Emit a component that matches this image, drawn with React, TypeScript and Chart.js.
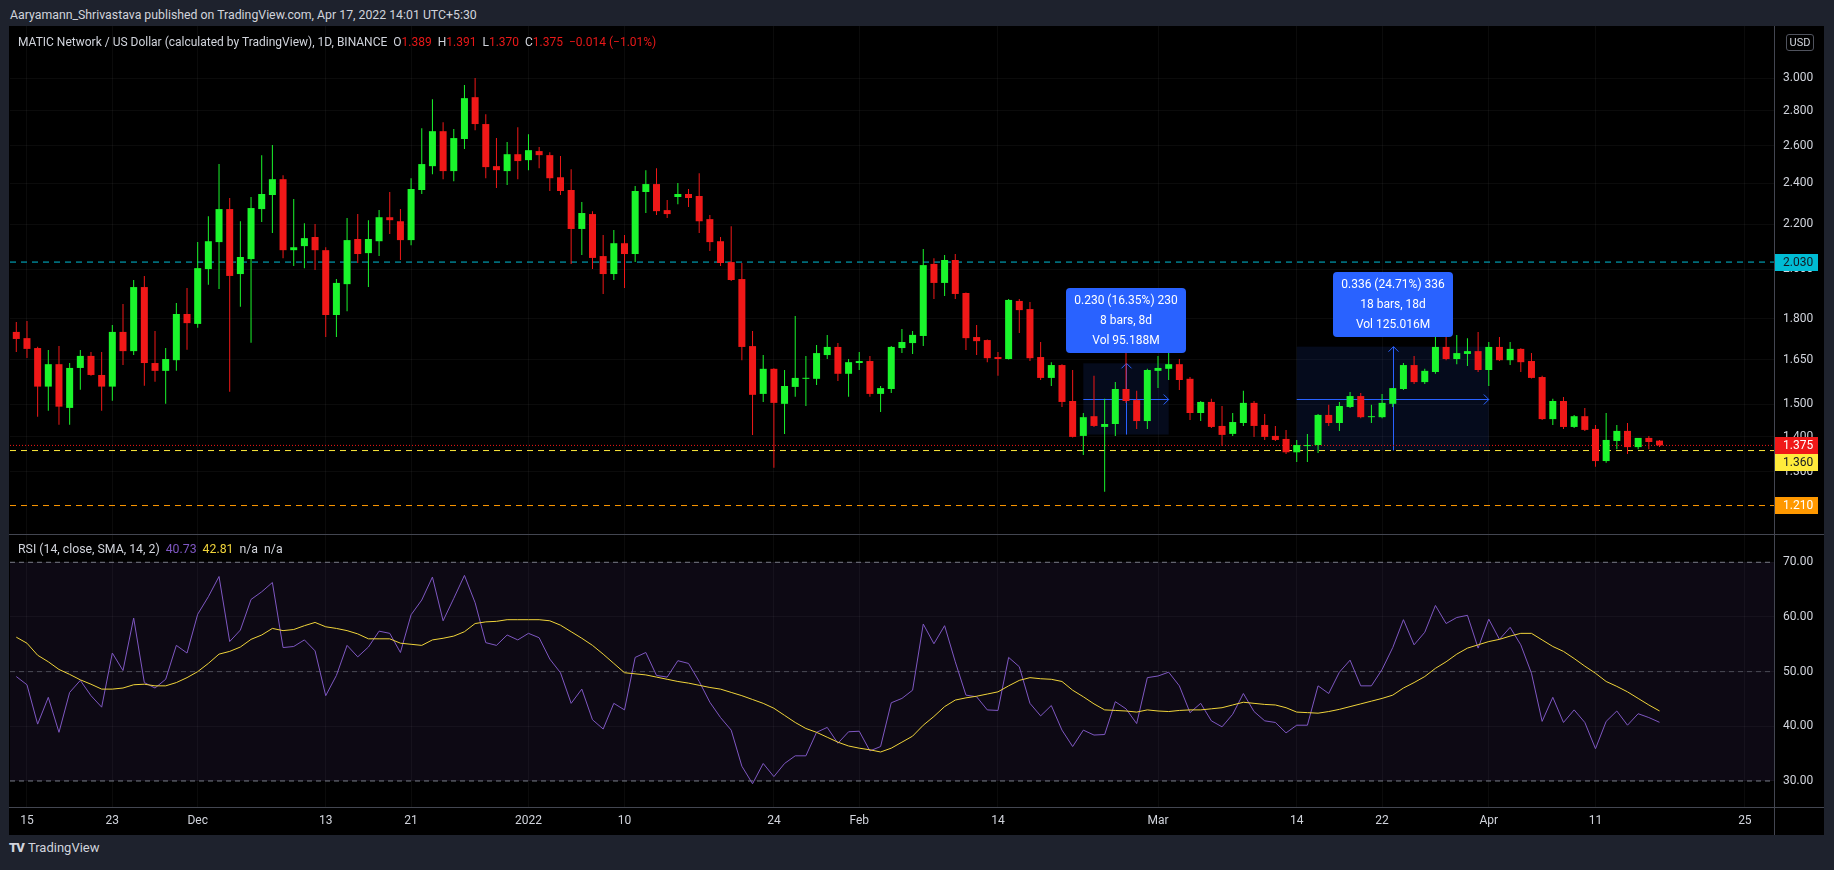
import React, { useEffect, useRef } from "react";
import { Chart, registerables } from "chart.js";

Chart.register(...registerables);

// ---------------- data (daily MATIC/USD, 14 Nov 2021 .. 17 Apr 2022) ----------------
const opens = [
  1.750, 1.727, 1.691, 1.558, 1.634, 1.489, 1.621, 1.663, 1.597, 1.558,
  1.750, 1.680, 1.925, 1.638, 1.611, 1.648, 1.818, 1.780, 2.000, 2.118,
  2.272, 1.979, 2.043, 2.272, 2.341, 2.421, 2.082, 2.100, 2.141, 2.082,
  1.814, 1.937, 2.132, 2.069, 2.122, 2.233, 2.214, 2.127, 2.366, 2.489,
  2.681, 2.463, 2.637, 2.882, 2.722, 2.489, 2.463, 2.553, 2.521, 2.570,
  2.548, 2.431, 2.366, 2.178, 2.248, 2.056, 1.979, 2.113, 2.065, 2.356,
  2.396, 2.267, 2.331, 2.346, 2.336, 2.224, 2.122, 2.030, 1.958, 1.698,
  1.534, 1.618, 1.502, 1.557, 1.584, 1.584, 1.666, 1.695, 1.601, 1.638,
  1.645, 1.534, 1.550, 1.691, 1.709, 1.735, 2.022, 1.942, 2.039, 1.901,
  1.731, 1.720, 1.659, 1.652, 1.869, 1.837, 1.659, 1.587, 1.631, 1.511,
  1.403, 1.463, 1.430, 1.439, 1.550, 1.514, 1.448, 1.611, 1.618, 1.634,
  1.584, 1.473, 1.508, 1.433, 1.409, 1.442, 1.505, 1.436, 1.403, 1.394,
  1.355, 1.373, 1.376, 1.467, 1.442, 1.492, 1.527, 1.460, 1.460, 1.502,
  1.550, 1.631, 1.573, 1.607, 1.695, 1.652, 1.670, 1.680, 1.614, 1.695,
  1.648, 1.688, 1.645, 1.590, 1.454, 1.511, 1.430, 1.463, 1.424, 1.330,
  1.388, 1.418, 1.370, 1.397, 1.389,
];
const highs = [
  1.787, 1.791, 1.696, 1.684, 1.698, 1.638, 1.684, 1.677, 1.677, 1.776,
  1.857, 1.954, 1.971, 1.753, 1.691, 1.861, 1.921, 2.118, 2.238, 2.500,
  2.326, 2.214, 2.331, 2.548, 2.603, 2.442, 2.321, 2.205, 2.201, 2.095,
  1.958, 2.229, 2.248, 2.219, 2.267, 2.356, 2.272, 2.426, 2.698, 2.870,
  2.733, 2.693, 2.958, 3.002, 2.780, 2.642, 2.620, 2.704, 2.664, 2.592,
  2.564, 2.543, 2.473, 2.306, 2.262, 2.150, 2.173, 2.150, 2.386, 2.468,
  2.478, 2.316, 2.401, 2.371, 2.452, 2.243, 2.141, 2.191, 2.026, 1.753,
  1.666, 1.620, 1.614, 1.810, 1.663, 1.702, 1.739, 1.709, 1.652, 1.677,
  1.663, 1.560, 1.698, 1.761, 1.753, 2.087, 2.047, 2.061, 2.065, 1.903,
  1.776, 1.722, 1.677, 1.877, 1.877, 1.865, 1.713, 1.641, 1.634, 1.614,
  1.473, 1.594, 1.518, 1.573, 1.720, 1.544, 1.618, 1.663, 1.698, 1.652,
  1.590, 1.511, 1.518, 1.495, 1.473, 1.544, 1.511, 1.470, 1.433, 1.421,
  1.391, 1.409, 1.470, 1.499, 1.508, 1.540, 1.537, 1.499, 1.534, 1.553,
  1.638, 1.663, 1.618, 1.742, 1.746, 1.739, 1.727, 1.750, 1.713, 1.731,
  1.713, 1.690, 1.673, 1.594, 1.518, 1.524, 1.467, 1.489, 1.436, 1.473,
  1.436, 1.442, 1.397, 1.403, 1.391,
];
const lows = [
  1.677, 1.656, 1.461, 1.480, 1.437, 1.437, 1.548, 1.594, 1.480, 1.512,
  1.631, 1.666, 1.561, 1.574, 1.502, 1.611, 1.685, 1.766, 1.934, 1.917,
  1.541, 1.846, 1.710, 2.210, 2.159, 2.047, 2.013, 2.004, 1.996, 1.731,
  1.731, 1.829, 2.026, 1.925, 2.056, 2.155, 2.039, 2.104, 2.346, 2.447,
  2.421, 2.411, 2.581, 2.687, 2.426, 2.376, 2.391, 2.421, 2.468, 2.478,
  2.361, 2.341, 2.022, 2.061, 2.000, 1.897, 1.954, 1.921, 2.030, 2.253,
  2.243, 2.229, 2.296, 2.282, 2.159, 2.078, 2.013, 1.950, 1.648, 1.406,
  1.508, 1.311, 1.409, 1.525, 1.495, 1.563, 1.652, 1.577, 1.525, 1.614,
  1.525, 1.476, 1.537, 1.673, 1.670, 1.698, 1.877, 1.889, 1.877, 1.684,
  1.666, 1.641, 1.594, 1.650, 1.746, 1.645, 1.580, 1.560, 1.492, 1.398,
  1.347, 1.430, 1.246, 1.403, 1.505, 1.424, 1.424, 1.553, 1.580, 1.547,
  1.451, 1.448, 1.427, 1.373, 1.403, 1.433, 1.400, 1.391, 1.388, 1.350,
  1.327, 1.327, 1.353, 1.433, 1.418, 1.489, 1.457, 1.442, 1.457, 1.492,
  1.547, 1.567, 1.567, 1.601, 1.648, 1.634, 1.628, 1.607, 1.560, 1.645,
  1.631, 1.607, 1.585, 1.451, 1.436, 1.424, 1.427, 1.418, 1.314, 1.325,
  1.364, 1.350, 1.364, 1.364, 1.370,
];
const closes = [
  1.724, 1.688, 1.558, 1.634, 1.493, 1.621, 1.663, 1.597, 1.558, 1.750,
  1.680, 1.925, 1.638, 1.611, 1.652, 1.818, 1.783, 2.004, 2.122, 2.272,
  1.971, 2.052, 2.277, 2.346, 2.421, 2.082, 2.095, 2.136, 2.082, 1.814,
  1.942, 2.127, 2.065, 2.132, 2.233, 2.219, 2.127, 2.371, 2.500, 2.681,
  2.463, 2.642, 2.876, 2.722, 2.484, 2.468, 2.553, 2.516, 2.575, 2.548,
  2.426, 2.361, 2.178, 2.253, 2.048, 1.979, 2.113, 2.065, 2.361, 2.396,
  2.262, 2.248, 2.346, 2.326, 2.214, 2.118, 2.026, 1.954, 1.695, 1.531,
  1.618, 1.505, 1.560, 1.587, 1.587, 1.673, 1.695, 1.601, 1.641, 1.645,
  1.534, 1.553, 1.695, 1.713, 1.739, 2.017, 1.942, 2.039, 1.897, 1.727,
  1.716, 1.655, 1.652, 1.873, 1.833, 1.655, 1.587, 1.631, 1.508, 1.400,
  1.460, 1.433, 1.439, 1.550, 1.511, 1.448, 1.614, 1.621, 1.634, 1.580,
  1.473, 1.508, 1.430, 1.406, 1.445, 1.505, 1.433, 1.400, 1.391, 1.355,
  1.376, 1.376, 1.467, 1.442, 1.495, 1.527, 1.460, 1.463, 1.505, 1.553,
  1.631, 1.573, 1.611, 1.695, 1.652, 1.673, 1.680, 1.614, 1.695, 1.648,
  1.688, 1.641, 1.587, 1.454, 1.511, 1.430, 1.463, 1.421, 1.330, 1.391,
  1.418, 1.370, 1.397, 1.385, 1.375,
];
const rsiValues = [
  49.1, 47.6, 40.4, 45.3, 38.9, 46.2, 48.4, 45.6, 43.5, 53.4,
  50.2, 59.8, 48.0, 47.0, 48.6, 54.8, 53.4, 60.5, 63.7, 67.4,
  55.5, 57.6, 63.2, 64.6, 66.3, 54.4, 54.6, 55.8, 53.8, 45.6,
  49.3, 54.8, 52.7, 54.5, 57.4, 57.0, 53.5, 60.4, 63.1, 67.3,
  59.3, 63.4, 67.6, 62.6, 55.3, 54.8, 56.7, 55.8, 57.0, 56.2,
  52.3, 49.8, 44.2, 46.8, 41.2, 39.5, 44.2, 43.0, 52.6, 53.5,
  49.3, 49.0, 52.0, 51.5, 48.2, 44.4, 41.6, 39.3, 32.7, 29.5,
  33.2, 30.8, 33.2, 34.6, 34.6, 38.9, 39.8, 36.9, 39.0, 39.1,
  35.5, 36.3, 44.3, 45.1, 46.6, 58.7, 55.1, 58.4, 51.8, 45.7,
  45.4, 43.0, 42.9, 52.6, 50.9, 44.2, 41.9, 43.8, 39.3, 36.3,
  39.3, 38.4, 38.5, 44.5, 43.2, 40.5, 48.9, 49.2, 49.9, 47.4,
  42.5, 44.2, 41.0, 39.9, 42.2, 46.0, 42.7, 41.0, 40.7, 38.8,
  40.2, 40.2, 47.4, 46.0, 49.9, 52.1, 47.4, 47.4, 50.4, 54.4,
  59.5, 54.9, 57.2, 62.1, 58.8, 59.9, 60.3, 54.3, 59.6, 55.9,
  58.1, 54.9, 49.7, 40.9, 45.3, 40.7, 43.0, 40.7, 35.9, 40.9,
  42.8, 40.2, 42.3, 41.6, 40.73,
];
const rsiMaValues = [
  56.3, 55.2, 53.0, 51.8, 50.4, 49.5, 48.5, 47.7, 46.8, 46.8,
  47.0, 47.6, 47.7, 47.4, 47.4, 48.0, 48.9, 50.0, 51.5, 53.2,
  53.7, 54.5, 55.9, 56.7, 57.9, 57.5, 57.7, 58.4, 59.0, 58.2,
  57.9, 57.5, 56.9, 56.0, 56.0, 56.0, 55.2, 55.0, 54.8, 55.8,
  56.1, 56.5, 57.3, 58.8, 59.1, 59.2, 59.5, 59.5, 59.5, 59.5,
  59.3, 58.5, 57.3, 56.1, 54.8, 53.2, 51.5, 49.8, 49.6, 49.4,
  49.0, 48.6, 48.2, 47.9, 47.5, 47.1, 46.8, 46.2, 45.6, 44.9,
  44.2, 43.3, 42.0, 40.7, 39.6, 38.9, 38.0, 37.1, 36.4, 36.0,
  35.7, 35.3, 36.0, 37.1, 38.2, 40.2, 41.8, 43.6, 44.8, 45.2,
  45.5, 45.9, 46.3, 47.4, 48.4, 48.9, 48.7, 48.6, 48.2, 46.6,
  45.4, 44.1, 43.0, 42.9, 42.8, 42.6, 43.0, 42.8, 42.7, 42.9,
  43.0, 43.0, 43.2, 43.4, 43.9, 44.4, 44.2, 44.0, 43.9, 43.4,
  42.6, 42.5, 42.4, 42.7, 43.1, 43.6, 44.1, 44.6, 45.1, 45.7,
  47.0, 48.0, 49.1, 50.6, 51.8, 53.2, 54.3, 54.9, 55.5, 55.9,
  56.5, 57.0, 57.0, 55.8, 54.6, 53.7, 52.4, 51.0, 49.7, 48.2,
  47.3, 46.3, 45.1, 43.9, 42.81,
];

// x-axis date ticks (bar index counted from 14 Nov 2021)
const dateTickIndex = [1, 9, 17, 29, 37, 48, 57, 71, 79, 92, 107, 120, 128, 138, 148, 162];
const dateTickLabels = ["15", "23", "Dec", "13", "21", "2022", "10", "24", "Feb", "14", "Mar", "14", "22", "Apr", "11", "25"];
const priceTicks = [1.3, 1.4, 1.5, 1.65, 1.8, 2.0, 2.2, 2.4, 2.6, 2.8, 3.0];
const rsiTicks = [30, 40, 50, 60, 70];
const rsiBands = [70, 50, 30];

// horizontal levels
const levelPrices = [2.03, 1.375, 1.36, 1.21];

// price range measurements
const rangeStartBar = [100, 120];
const rangeEndBar = [108, 138];
const rangeLow = [1.407, 1.36];
const rangeHigh = [1.637, 1.696];
const rangeLine1 = ["0.230 (16.35%) 230", "0.336 (24.71%) 336"];
const rangeLine2 = ["8 bars, 8d", "18 bars, 18d"];
const rangeLine3 = ["Vol 95.188M", "Vol 125.016M"];

const changeText = "\u22120.014 (\u22121.01%)";

// ---------------- view / style ----------------
const X_MIN = -0.59;
const X_MAX = 164.73;
const PRICE_MIN = 1.139;
const PRICE_MAX = 3.3526;
const RSI_MIN = 25.24;
const RSI_MAX = 74.99;

const UP = "#1af52c";
const DOWN = "#f01818";
const GRID = "rgba(255,255,255,0.045)";
const AXIS_TEXT = "#d1d4dc";
const FONT = "Roboto, 'Noto Sans', sans-serif";
const levelColor = ["#00bcd4", "#f01818", "#ffeb3b", "#ff9800"];
const levelDash = [[6, 5], [1, 2], [6, 5], [6, 5]];
const levelTextColor = ["#131722", "#ffffff", "#131722", "#ffffff"];

const fixY = (w: number) => (s: any) => {
  s.width = w;
  s.paddingTop = 0;
  s.paddingBottom = 0;
};
const fixX = (h: number) => (s: any) => {
  s.height = h;
  s.paddingLeft = 0;
  s.paddingRight = 0;
};

function roundRect(ctx: CanvasRenderingContext2D, x: number, y: number, w: number, h: number, r: number) {
  ctx.beginPath();
  ctx.moveTo(x + r, y);
  ctx.lineTo(x + w - r, y);
  ctx.quadraticCurveTo(x + w, y, x + w, y + r);
  ctx.lineTo(x + w, y + h - r);
  ctx.quadraticCurveTo(x + w, y + h, x + w - r, y + h);
  ctx.lineTo(x + r, y + h);
  ctx.quadraticCurveTo(x, y + h, x, y + h - r);
  ctx.lineTo(x, y + r);
  ctx.quadraticCurveTo(x, y, x + r, y);
  ctx.closePath();
}

const priceOverlay = {
  id: "priceOverlay",
  beforeDatasetsDraw(chart: any) {
    const { ctx } = chart;
    const x = chart.scales.x;
    const y = chart.scales.y;
    ctx.save();
    for (let k = 0; k < rangeStartBar.length; k++) {
      const x0 = x.getPixelForValue(rangeStartBar[k]);
      const x1 = x.getPixelForValue(rangeEndBar[k]);
      const yt = y.getPixelForValue(rangeHigh[k]);
      const yb = y.getPixelForValue(rangeLow[k]);
      ctx.fillStyle = "rgba(41,98,255,0.11)";
      ctx.fillRect(x0, yt, x1 - x0, yb - yt);
      const xm = Math.round((x0 + x1) / 2) + 0.5;
      const ym = Math.round(y.getPixelForValue(Math.sqrt(rangeLow[k] * rangeHigh[k]))) + 0.5;
      ctx.strokeStyle = "#2962ff";
      ctx.lineWidth = 1;
      ctx.beginPath();
      ctx.moveTo(x0, ym);
      ctx.lineTo(x1, ym);
      ctx.moveTo(x1 - 5, ym - 5);
      ctx.lineTo(x1, ym);
      ctx.lineTo(x1 - 5, ym + 5);
      ctx.moveTo(xm, yb);
      ctx.lineTo(xm, yt);
      ctx.moveTo(xm - 5, yt + 5);
      ctx.lineTo(xm, yt);
      ctx.lineTo(xm + 5, yt + 5);
      ctx.stroke();
    }
    ctx.restore();
  },
  afterDatasetsDraw(chart: any) {
    const { ctx } = chart;
    const x = chart.scales.x;
    const y = chart.scales.y;
    ctx.save();
    ctx.font = `12px ${FONT}`;
    for (let k = 0; k < rangeStartBar.length; k++) {
      const x0 = x.getPixelForValue(rangeStartBar[k]);
      const x1 = x.getPixelForValue(rangeEndBar[k]);
      const yt = y.getPixelForValue(rangeHigh[k]);
      const lines = [rangeLine1[k], rangeLine2[k], rangeLine3[k]];
      const w = Math.round(Math.max(...lines.map((t) => ctx.measureText(t).width)) + 16);
      const h = 65;
      const cx = (x0 + x1) / 2;
      const bx = Math.round(cx - w / 2);
      const by = Math.round(yt - 10 - h);
      ctx.fillStyle = "#2962ff";
      roundRect(ctx, bx, by, w, h, 4);
      ctx.fill();
      ctx.fillStyle = "#ffffff";
      ctx.textAlign = "center";
      ctx.textBaseline = "middle";
      lines.forEach((t, j) => ctx.fillText(t, bx + w / 2, by + 12.5 + j * 20));
    }
    ctx.restore();
  },
  afterDraw(chart: any) {
    const { ctx, chartArea } = chart;
    const y = chart.scales.y;
    const items = levelPrices
      .map((p, k) => ({ k, y: y.getPixelForValue(p) }))
      .sort((a, b) => a.y - b.y);
    for (let j = 1; j < items.length; j++) {
      if (items[j].y - items[j - 1].y < 17) items[j].y = items[j - 1].y + 17;
    }
    ctx.save();
    ctx.font = `12px ${FONT}`;
    ctx.textBaseline = "middle";
    ctx.textAlign = "left";
    for (const it of items) {
      const top = Math.round(it.y - 8.5);
      ctx.fillStyle = levelColor[it.k];
      ctx.fillRect(chartArea.right, top, 44, 17);
      ctx.fillStyle = levelTextColor[it.k];
      ctx.fillText(levelPrices[it.k].toFixed(3), chartArea.right + 9, top + 9);
    }
    ctx.restore();
  },
};

const rsiOverlay = {
  id: "rsiOverlay",
  beforeDatasetsDraw(chart: any) {
    const { ctx, chartArea } = chart;
    const y = chart.scales.y;
    const t = y.getPixelForValue(rsiBands[0]);
    const b = y.getPixelForValue(rsiBands[2]);
    ctx.save();
    ctx.fillStyle = "rgba(126,87,194,0.1)";
    ctx.fillRect(chartArea.left, t, chartArea.right - chartArea.left, b - t);
    ctx.restore();
  },
};

export default function App() {
  const priceRef = useRef<HTMLCanvasElement>(null);
  const rsiRef = useRef<HTMLCanvasElement>(null);

  useEffect(() => {
    document.body.style.margin = "0";
    Chart.defaults.font.family = FONT;
    Chart.defaults.color = AXIS_TEXT;

    const candleColors = closes.map((c, i) => (c >= opens[i] ? UP : DOWN));
    const bodies = opens.map((o, i) => ({ x: i, y: [o, closes[i]] }));
    const wicks = lows.map((l, i) => ({ x: i, y: [l, highs[i]] }));

    const levelSets = levelPrices.map((p, k) => ({
      type: "line",
      data: [
        { x: X_MIN, y: p },
        { x: X_MAX, y: p },
      ],
      borderColor: levelColor[k],
      borderDash: levelDash[k],
      borderWidth: 1,
      pointRadius: 0,
      order: 5,
    }));

    const priceChart = new Chart(priceRef.current as HTMLCanvasElement, {
      type: "bar",
      data: {
        datasets: [
          {
            type: "bar",
            data: bodies,
            backgroundColor: candleColors,
            barThickness: 7,
            grouped: false,
            minBarLength: 1,
            borderWidth: 0,
            inflateAmount: 0,
            order: 0,
          },
          {
            type: "bar",
            data: wicks,
            backgroundColor: candleColors,
            barThickness: 1,
            grouped: false,
            borderWidth: 0,
            inflateAmount: 0,
            order: 1,
          },
          ...levelSets,
        ] as any,
      },
      options: {
        animation: false,
        responsive: false,
        events: [],
        layout: { padding: 0 },
        plugins: { legend: { display: false }, tooltip: { enabled: false } },
        scales: {
          x: {
            type: "linear",
            min: X_MIN,
            max: X_MAX,
            offset: false,
            afterBuildTicks: (s: any) => {
              s.ticks = dateTickIndex.map((v) => ({ value: v }));
            },
            afterFit: fixX(0),
            ticks: { display: false },
            grid: { color: GRID, drawTicks: false, offset: false },
            border: { display: false },
          },
          y: {
            type: "logarithmic",
            position: "right",
            min: PRICE_MIN,
            max: PRICE_MAX,
            afterBuildTicks: (s: any) => {
              s.ticks = priceTicks.map((v) => ({ value: v }));
            },
            afterFit: fixY(49),
            ticks: {
              callback: (v: any) => Number(v).toFixed(3),
              color: AXIS_TEXT,
              font: { family: FONT, size: 12 },
              padding: 9,
              autoSkip: false,
            },
            grid: { color: GRID, drawTicks: false },
            border: { display: false },
          },
        },
      } as any,
      plugins: [priceOverlay],
    });

    const bandSets = rsiBands.map((b, k) => ({
      data: [
        { x: X_MIN, y: b },
        { x: X_MAX + 0.6, y: b },
      ],
      borderColor: k === 1 ? "rgba(120,123,134,0.55)" : "#787b86",
      borderDash: [5, 4],
      borderWidth: 1,
      pointRadius: 0,
      order: 5,
    }));

    const rsiChart = new Chart(rsiRef.current as HTMLCanvasElement, {
      type: "line",
      data: {
        datasets: [
          {
            data: rsiValues.map((v, i) => ({ x: i, y: v })),
            borderColor: "#7e57c2",
            borderWidth: 1,
            pointRadius: 0,
            tension: 0,
            order: 1,
          },
          {
            data: rsiMaValues.map((v, i) => ({ x: i, y: v })),
            borderColor: "#f0d43a",
            borderWidth: 1,
            pointRadius: 0,
            tension: 0,
            order: 0,
          },
          ...bandSets,
        ] as any,
      },
      options: {
        animation: false,
        responsive: false,
        events: [],
        layout: { padding: 0 },
        plugins: { legend: { display: false }, tooltip: { enabled: false } },
        scales: {
          x: {
            type: "linear",
            min: X_MIN,
            max: X_MAX,
            offset: false,
            afterBuildTicks: (s: any) => {
              s.ticks = dateTickIndex.map((v) => ({ value: v }));
            },
            afterFit: fixX(28),
            ticks: {
              callback: (_v: any, idx: number) => dateTickLabels[idx] ?? "",
              color: AXIS_TEXT,
              font: { family: FONT, size: 12 },
              padding: 7,
              autoSkip: false,
              maxRotation: 0,
              minRotation: 0,
            },
            grid: { color: GRID, drawTicks: false, offset: false },
            border: { display: false },
          },
          y: {
            type: "linear",
            position: "right",
            min: RSI_MIN,
            max: RSI_MAX,
            afterBuildTicks: (s: any) => {
              s.ticks = rsiTicks.map((v) => ({ value: v }));
            },
            afterFit: fixY(49),
            ticks: {
              callback: (v: any) => Number(v).toFixed(2),
              color: AXIS_TEXT,
              font: { family: FONT, size: 12 },
              padding: 9,
              autoSkip: false,
            },
            grid: { color: GRID, drawTicks: false },
            border: { display: false },
          },
        },
      } as any,
      plugins: [rsiOverlay],
    });

    return () => {
      priceChart.destroy();
      rsiChart.destroy();
    };
  }, []);

  const last = closes.length - 1;
  const red = "#e81818";
  const ohlc = [
    ["O", opens[last]],
    ["H", highs[last]],
    ["L", lows[last]],
    ["C", closes[last]],
  ];

  return (
    <div
      style={{
        position: "fixed",
        left: 0,
        top: 0,
        width: 1834,
        height: 870,
        background: "#1e222d",
        overflow: "hidden",
        fontFamily: FONT,
      }}
    >
      <div style={{ position: "absolute", left: 10, top: 2, lineHeight: "26px", fontSize: 12.3, color: "#d1d4dc", whiteSpace: "nowrap" }}>
        Aaryamann_Shrivastava published on TradingView.com, Apr 17, 2022 14:01 UTC+5:30
      </div>
      <div style={{ position: "absolute", left: 9, top: 26, width: 1815, height: 809, background: "#000" }} />
      <canvas
        ref={priceRef}
        width={1813}
        height={508}
        style={{ position: "absolute", left: 10, top: 26, width: 1813, height: 508 }}
      />
      <canvas
        ref={rsiRef}
        width={1813}
        height={300}
        style={{ position: "absolute", left: 10, top: 535, width: 1813, height: 300 }}
      />
      {/* pane separators and axis line */}
      <div style={{ position: "absolute", left: 9, top: 534, width: 1815, height: 1, background: "#434651" }} />
      <div style={{ position: "absolute", left: 9, top: 807, width: 1815, height: 1, background: "#434651" }} />
      <div style={{ position: "absolute", left: 1774, top: 26, width: 1, height: 809, background: "#434651" }} />

      {/* main legend */}
      <div style={{ position: "absolute", left: 18, top: 34, lineHeight: "17px", fontSize: 12, color: "#d1d4dc", whiteSpace: "nowrap" }}>
        <span>MATIC Network / US Dollar (calculated by TradingView), 1D, BINANCE</span>
        {ohlc.map(([k, v]) => (
          <span key={k as string} style={{ marginLeft: 6 }}>
            {k}
            <span style={{ color: red }}>{(v as number).toFixed(3)}</span>
          </span>
        ))}
        <span style={{ marginLeft: 6, color: red }}>{changeText}</span>
      </div>

      {/* USD badge */}
      <div
        style={{
          position: "absolute",
          left: 1786,
          top: 34,
          width: 26,
          height: 15,
          border: "1px solid #50535e",
          borderRadius: 3,
          color: "#d1d4dc",
          fontSize: 11,
          lineHeight: "15px",
          textAlign: "center",
        }}
      >
        USD
      </div>

      {/* RSI legend */}
      <div style={{ position: "absolute", left: 18, top: 541, lineHeight: "17px", fontSize: 12.3, color: "#d1d4dc", whiteSpace: "nowrap" }}>
        <span>RSI (14, close, SMA, 14, 2)</span>
        <span style={{ marginLeft: 6, color: "#7e57c2" }}>{rsiValues[last].toFixed(2)}</span>
        <span style={{ marginLeft: 6, color: "#f0d43a" }}>{rsiMaValues[last].toFixed(2)}</span>
        <span style={{ marginLeft: 6 }}>n/a</span>
        <span style={{ marginLeft: 6 }}>n/a</span>
      </div>

      {/* footer logo */}
      <div style={{ position: "absolute", left: 9, top: 839, lineHeight: "18px", fontSize: 13, color: "#d1d4dc", whiteSpace: "nowrap" }}>
        <span style={{ fontWeight: 900, letterSpacing: -1, marginRight: 4 }}>TV</span>
        <span>TradingView</span>
      </div>
    </div>
  );
}
